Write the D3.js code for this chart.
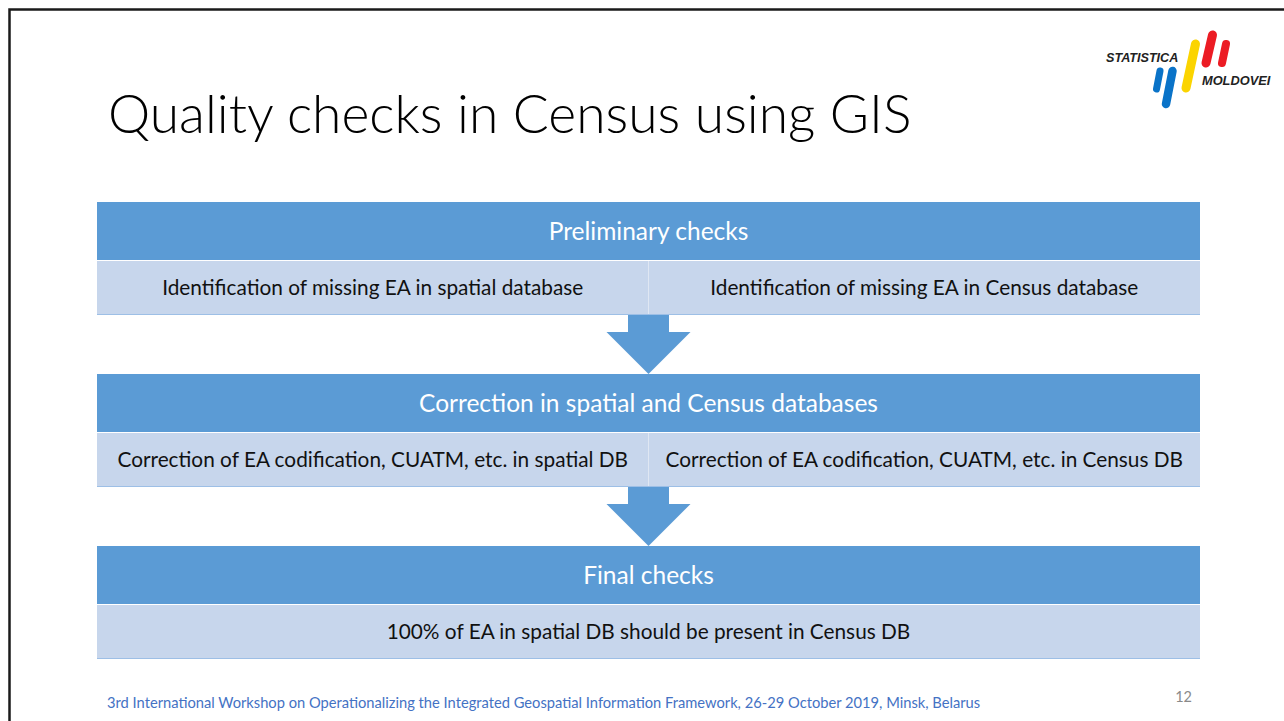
<!DOCTYPE html>
<html>
<head>
<meta charset="utf-8">
<script src="https://cdn.jsdelivr.net/npm/d3@7"></script>
<style>
  body { margin: 0; background: #fff; }
  svg { display: block; }
</style>
</head>
<body>
<svg id="slide" width="1284" height="721"></svg>
<script>
// slide content
const title = "Quality checks in Census using GIS";
const stageHeaders = [
    "Preliminary checks",
    "Correction in spatial and Census databases",
    "Final checks"
];
const stageCells = [
    ["Identification of missing EA in spatial database", "Identification of missing EA in Census database"],
    ["Correction of EA codification, CUATM, etc. in spatial DB", "Correction of EA codification, CUATM, etc. in Census DB"],
    ["100% of EA in spatial DB should be present in Census DB"]
];
const footer = "3rd International Workshop on Operationalizing the Integrated Geospatial Information Framework, 26-29 October 2019, Minsk, Belarus";
const pageNumber = "12";

const HEADER_BLUE = "#5b9bd5";
const CELL_BLUE = "#c7d6ec";
const FONT = "Lato, 'Open Sans', sans-serif";

const svg = d3.select("#slide");

// slide frame
svg.append("path")
    .attr("d", "M9.5,721 V9.5 H1284")
    .attr("fill", "none")
    .attr("stroke", "#1a1a1a")
    .attr("stroke-width", 2.5);

// title
svg.append("text")
    .attr("x", 108)
    .attr("y", 133)
    .attr("font-family", FONT)
    .attr("font-weight", 300)
    .attr("font-size", 53.4)
    .attr("fill", "#000")
    .text(title);

// layout scales
const x = d3.scaleLinear().domain([0, 1]).range([97, 1200]);
const stageY = d3.scaleLinear().domain([0, 1]).range([202, 374]);
const headerH = 58;
const cellH = 53;

const stages = stageHeaders.map((h, i) => ({ header: h, cells: stageCells[i], i }));

const g = svg.selectAll(".stage")
    .data(stages)
    .join("g")
    .attr("class", "stage")
    .attr("transform", d => `translate(0,${stageY(d.i)})`);

g.append("rect")
    .attr("x", x(0))
    .attr("y", 0)
    .attr("width", x(1) - x(0))
    .attr("height", headerH)
    .attr("fill", HEADER_BLUE);

g.append("text")
    .attr("x", (x(0) + x(1)) / 2)
    .attr("y", headerH / 2)
    .attr("dy", "0.35em")
    .attr("text-anchor", "middle")
    .attr("font-family", FONT)
    .attr("font-size", 24.5)
    .attr("fill", "#fff")
    .text(d => d.header);

// sub cells
g.each(function (d) {
    const cx = d3.scaleBand()
        .domain(d3.range(d.cells.length))
        .range([x(0), x(1)]);
    const cell = d3.select(this).selectAll(".cell")
        .data(d.cells)
        .join("g")
        .attr("class", "cell");
    cell.append("rect")
        .attr("x", (c, j) => cx(j))
        .attr("y", headerH + 1)
        .attr("width", cx.bandwidth())
        .attr("height", cellH)
        .attr("fill", CELL_BLUE);
    cell.append("text")
        .attr("x", (c, j) => cx(j) + cx.bandwidth() / 2)
        .attr("y", headerH + 1 + cellH / 2)
        .attr("dy", "0.35em")
        .attr("text-anchor", "middle")
        .attr("font-family", FONT)
        .attr("font-size", 20.8)
        .attr("fill", "#111")
        .text(c => c);
    // divider between cells
    d3.select(this).selectAll(".divider")
        .data(d3.range(1, d.cells.length))
        .join("line")
        .attr("x1", j => cx(j))
        .attr("x2", j => cx(j))
        .attr("y1", headerH + 1)
        .attr("y2", headerH + 1 + cellH)
        .attr("stroke", "#dfe7f3")
        .attr("stroke-width", 1);
    d3.select(this).append("line")
        .attr("x1", x(0))
        .attr("x2", x(1))
        .attr("y1", headerH + 1 + cellH + 0.5)
        .attr("y2", headerH + 1 + cellH + 0.5)
        .attr("stroke", "#9dbfe6")
        .attr("stroke-width", 1);
});

// down arrows between stages
const mid = (x(0) + x(1)) / 2;
svg.selectAll(".arrow")
    .data(d3.range(stages.length - 1))
    .join("path")
    .attr("class", "arrow")
    .attr("fill", HEADER_BLUE)
    .attr("d", i => {
        const top = stageY(i) + headerH + 1 + cellH + 1;
        const tip = stageY(i + 1);
        const headTop = top + 17;
        return `M${mid - 20.5},${top} H${mid + 20.5} V${headTop} H${mid + 42} L${mid},${tip} L${mid - 42},${headTop} H${mid - 20.5} Z`;
    });

// footer
svg.append("text")
    .attr("x", 107)
    .attr("y", 708)
    .attr("font-family", FONT)
    .attr("font-size", 14.7)
    .attr("fill", "#4472c4")
    .text(footer);

svg.append("text")
    .attr("x", 1192)
    .attr("y", 702)
    .attr("text-anchor", "end")
    .attr("font-family", FONT)
    .attr("font-size", 14.5)
    .attr("fill", "#8a8a8a")
    .text(pageNumber);

// logo: slanted colour strokes + two words
const logo = svg.append("g").attr("class", "logo");
const bars = [
    { color: "#0a73c8", w: 7, pts: [[1160, 71], [1156.5, 89]] },
    { color: "#0a73c8", w: 8.5, pts: [[1172.5, 71], [1166, 104]] },
    { color: "#fbd400", w: 9, pts: [[1195.5, 44], [1186, 88]] },
    { color: "#ec1c24", w: 9, pts: [[1212.5, 35], [1206, 63]] },
    { color: "#ec1c24", w: 8, pts: [[1226, 44], [1222, 63]] }
];
logo.selectAll("path")
    .data(bars)
    .join("path")
    .attr("d", b => d3.line()(b.pts))
    .attr("fill", "none")
    .attr("stroke", b => b.color)
    .attr("stroke-width", b => b.w)
    .attr("stroke-linecap", "round");

logo.append("text")
    .attr("x", 1106)
    .attr("y", 62)
    .attr("font-family", "'Liberation Sans', Arial, sans-serif")
    .attr("font-weight", "bold")
    .attr("font-style", "italic")
    .attr("font-size", 12.6)
    .attr("fill", "#222")
    .text("STATISTICA");

logo.append("text")
    .attr("x", 1202)
    .attr("y", 85)
    .attr("font-family", "'Liberation Sans', Arial, sans-serif")
    .attr("font-weight", "bold")
    .attr("font-style", "italic")
    .attr("font-size", 12.8)
    .attr("fill", "#222")
    .text("MOLDOVEI");
</script>
</body>
</html>
